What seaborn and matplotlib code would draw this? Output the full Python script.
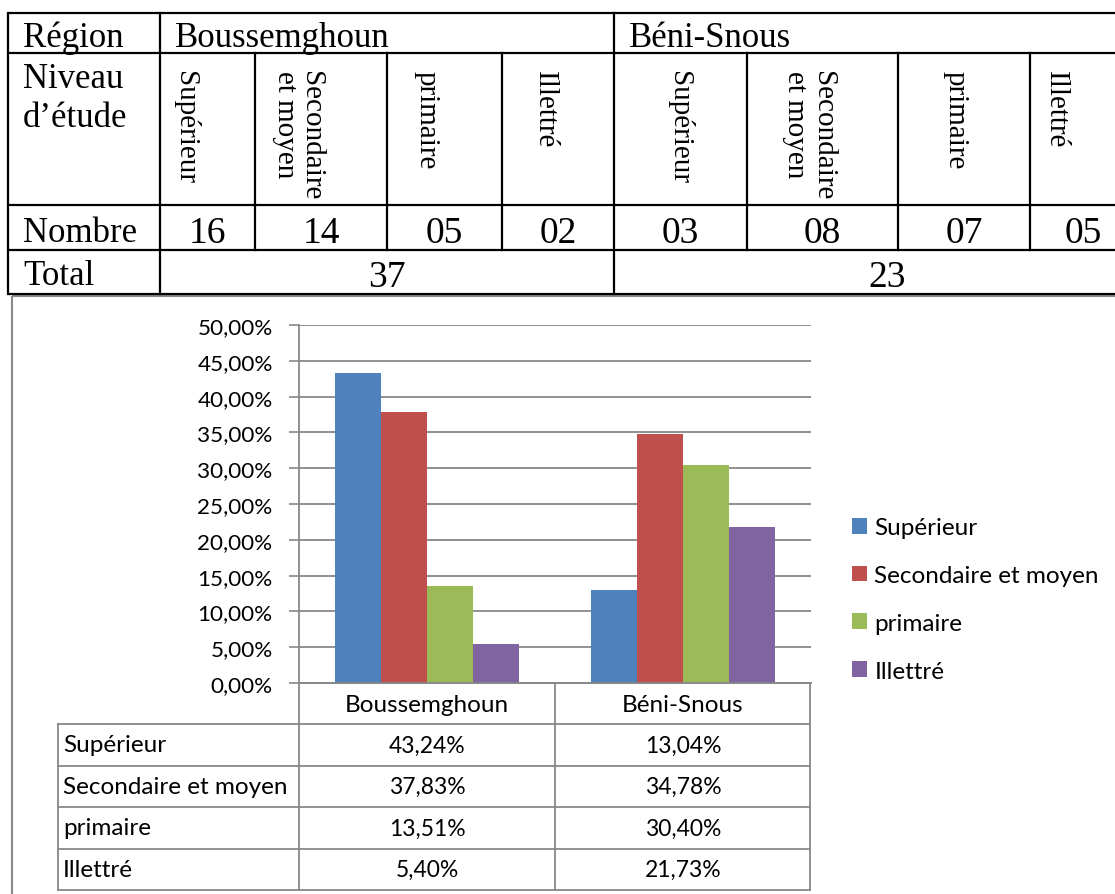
import matplotlib
matplotlib.use("Agg")
import matplotlib.pyplot as plt
import matplotlib.transforms as mtrans
import seaborn as sns
import pandas as pd
import numpy as np

# ---------------- data ----------------
regions = ["Boussemghoun", "Béni-Snous"]
niveaux = ["Supérieur", "Secondaire et moyen", "primaire", "Illettré"]
niveaux_rot = ["Supérieur", "Secondaire\net moyen", "primaire", "Illettré"]
nombre_bous = ["16", "14", "05", "02"]
nombre_beni = ["03", "08", "07", "05"]
totals = ["37", "23"]
pct_bous = [43.24, 37.83, 13.51, 5.40]
pct_beni = [13.04, 34.78, 30.40, 21.73]
colors = ["#4F81BD", "#C0504D", "#9BBB59", "#8064A2"]

df = pd.DataFrame({
    "Région": [regions[0]] * 4 + [regions[1]] * 4,
    "Niveau": niveaux * 2,
    "val": [v / 100 for v in pct_bous + pct_beni],
})

W, H = 1115, 895
fig = plt.figure(figsize=(W / 100, H / 100), dpi=100)
fig.patch.set_facecolor("white")

SANS = ["Lato", "DejaVu Sans"]
SERIF = ["Liberation Serif", "DejaVu Serif"]
GRAY = "#888888"
FS = 17.5
FS_NUM = 16.5

def fx(px):
    return px / W

def fy(py):
    return 1 - py / H

# ---------------- bar chart ----------------
x0, x1, ytop, ybot = 299, 811, 326, 684
ax = fig.add_axes([fx(x0), fy(ybot), fx(x1) - fx(x0), fy(ytop) - fy(ybot)])
sns.barplot(data=df, x="Région", y="val", hue="Niveau", order=regions,
            hue_order=niveaux, palette=colors, saturation=1, width=0.72,
            gap=0, linewidth=0, errorbar=None, ax=ax)
ax.set_xlim(-0.5, 1.5)
ax.set_ylim(0, 0.5)
ticks = np.arange(0, 0.501, 0.05)
ax.set_yticks(ticks)
ax.set_yticklabels([f"{t*100:.2f}%".replace(".", ",") for t in ticks],
                   fontfamily=SANS, fontsize=16.2)
ax.tick_params(axis="y", length=7, width=1.2, color=GRAY, pad=12, labelcolor="black")
ax.tick_params(axis="x", length=0, labelbottom=False)
ax.set_xlabel("")
ax.set_ylabel("")
ax.yaxis.grid(True, color=GRAY, linewidth=1.3)
ax.set_axisbelow(True)
for s in ["top", "right"]:
    ax.spines[s].set_visible(False)
for s in ["left", "bottom"]:
    ax.spines[s].set_color(GRAY)
    ax.spines[s].set_linewidth(1.3)

handles, labels = ax.get_legend_handles_labels()
ax.legend(handles, labels, loc="center left", bbox_to_anchor=(fx(852), fy(600.5)),
          bbox_transform=fig.transFigure, frameon=False, prop={"family": SANS, "size": FS},
          handlelength=0.62, handleheight=0.62, handletextpad=0.3, labelspacing=1.1,
          borderpad=0, borderaxespad=0)

# ---------------- overlay for tables ----------------
ov = fig.add_axes([0, 0, 1, 1], zorder=-1)
ov.set_xlim(0, W)
ov.set_ylim(H, 0)
ov.axis("off")

# blended transform: x from category axis, y in pixel units
bt = mtrans.blended_transform_factory(ax.transData, ov.transData)

# chart frame
ov.plot([12, W], [297, 297], color=GRAY, lw=1.5, solid_capstyle="butt")
ov.plot([12, 12], [297, H], color=GRAY, lw=1.5, solid_capstyle="butt")

# data table lines
rows_y = [725, 767, 808, 850, 891]
ov.plot([x0, x1], [684, 684], color=GRAY, lw=1.3)
for xv in [x0, 555, 810]:
    ov.plot([xv, xv], [684, 891], color=GRAY, lw=1.3)
ov.plot([58, 58], [725, 891], color=GRAY, lw=1.3)
for yv in rows_y:
    ov.plot([58, 810], [yv, yv], color=GRAY, lw=1.3)

for i, r in enumerate(regions):
    ov.text(i, 705, r, transform=bt, ha="center", va="center", family=SANS, fontsize=FS)
for j, n in enumerate(niveaux):
    yc = (rows_y[j] + rows_y[j + 1]) / 2
    ov.text(63, yc, n, ha="left", va="center", family=SANS, fontsize=FS)
    for i, vals in enumerate([pct_bous, pct_beni]):
        ov.text(i, yc, f"{vals[j]:.2f}%".replace(".", ","), transform=bt,
                ha="center", va="center", family=SANS, fontsize=FS_NUM)

# ---------------- top table ----------------
LW = 1.6
for yv in [14, 54, 206, 251, 295]:
    ov.plot([8, W], [yv, yv], color="black", lw=LW, solid_capstyle="butt")
ov.plot([8, 8], [14, 295], color="black", lw=LW)
for xv in [160, 614]:
    ov.plot([xv, xv], [14, 295], color="black", lw=LW)
for xv in [255, 387, 502, 747, 898, 1030]:
    ov.plot([xv, xv], [54, 251], color="black", lw=LW)

LAB = 25
NUM = 27
ov.text(23, 47, "Région", family=SERIF, fontsize=LAB, va="baseline")
ov.text(175, 47, regions[0], family=SERIF, fontsize=LAB, va="baseline")
ov.text(629, 47, regions[1], family=SERIF, fontsize=LAB, va="baseline")
ov.text(23, 88, "Niveau", family=SERIF, fontsize=LAB, va="baseline")
ov.text(23, 127, "d’étude", family=SERIF, fontsize=LAB, va="baseline")
ov.text(23, 242, "Nombre", family=SERIF, fontsize=LAB, va="baseline")
ov.text(23, 285, "Total", family=SERIF, fontsize=LAB, va="baseline")

rot_x = [185, 298, 427, 545, 679, 809, 956, 1056]
for k, lab in enumerate(niveaux_rot * 2):
    ov.text(rot_x[k], 71, lab, family=SERIF, fontsize=21, rotation=-90,
            ha="center", va="top", multialignment="left", linespacing=1.05)

num_x = [207, 321, 444, 558, 680, 822, 964, 1083]
for k, nb in enumerate(nombre_bous + nombre_beni):
    ov.text(num_x[k], 243, nb, family=SERIF, fontsize=NUM, ha="center", va="baseline")
ov.text(387, 287, totals[0], family=SERIF, fontsize=NUM, ha="center", va="baseline")
ov.text(887, 287, totals[1], family=SERIF, fontsize=NUM, ha="center", va="baseline")

fig.savefig("out.png", dpi=100, facecolor="white")
